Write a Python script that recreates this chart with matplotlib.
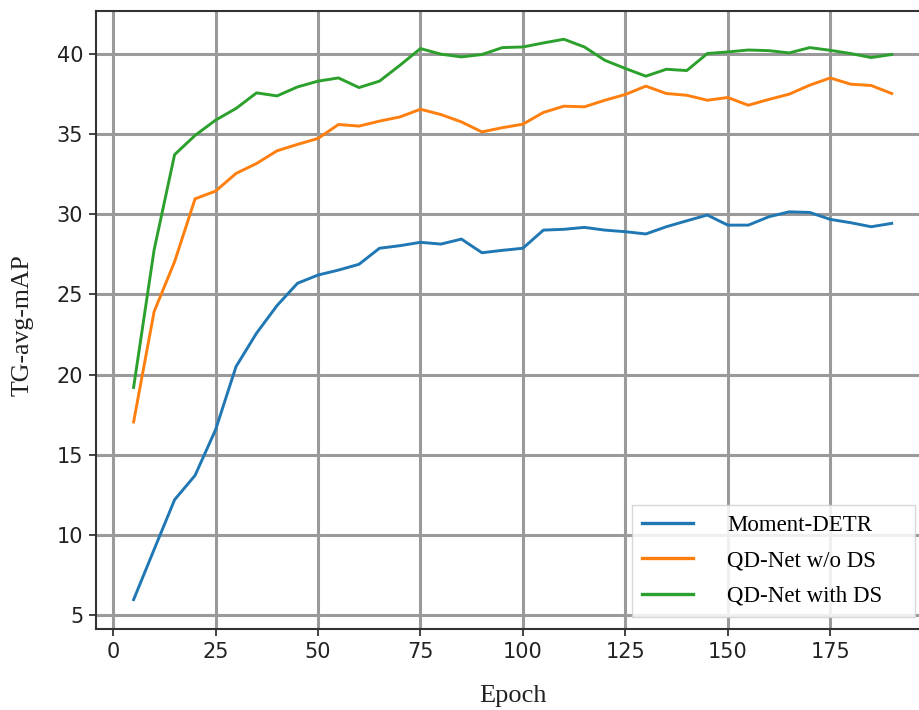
import matplotlib
matplotlib.use("Agg")
import matplotlib.pyplot as plt

epochs = [5, 10, 15, 20, 25, 30, 35, 40, 45, 50, 55, 60, 65, 70, 75, 80, 85, 90, 95,
          100, 105, 110, 115, 120, 125, 130, 135, 140, 145, 150, 155, 160, 165, 170,
          175, 180, 185, 190]

moment_detr = [5.98, 9.1, 12.2, 13.72, 16.56, 20.5, 22.58, 24.3, 25.69, 26.2, 26.51,
               26.87, 27.87, 28.03, 28.24, 28.13, 28.44, 27.59, 27.74, 27.87, 29.0,
               29.05, 29.17, 29.0, 28.9, 28.76, 29.21, 29.58, 29.94, 29.31, 29.31,
               29.83, 30.14, 30.1, 29.67, 29.46, 29.21, 29.42]

qdnet_wo_ds = [17.05, 23.92, 27.03, 30.95, 31.43, 32.53, 33.15, 33.94, 34.34, 34.71,
               35.58, 35.48, 35.79, 36.05, 36.53, 36.2, 35.74, 35.12, 35.38, 35.6,
               36.33, 36.72, 36.68, 37.09, 37.45, 37.97, 37.51, 37.4, 37.09, 37.26,
               36.78, 37.14, 37.47, 38.03, 38.48, 38.09, 38.01, 37.51]

qdnet_with_ds = [19.2, 27.76, 33.7, 34.9, 35.85, 36.58, 37.55, 37.36, 37.92, 38.28,
                 38.48, 37.88, 38.28, 39.27, 40.31, 39.96, 39.79, 39.94, 40.37, 40.41,
                 40.66, 40.89, 40.41, 39.58, 39.07, 38.59, 39.02, 38.94, 40.0, 40.1,
                 40.22, 40.18, 40.04, 40.37, 40.2, 40.0, 39.75, 39.94]

labels = ["Moment-DETR", "QD-Net w/o DS", "QD-Net with DS"]
colors = ["#1f77b4", "#ff7f0e", "#2ca02c"]

W, H = 919, 710
fig = plt.figure(figsize=(W / 100, H / 100), dpi=100)
L, R, T, B = 95.7, 929.6, 11, 629
ax = fig.add_axes([L / W, 1 - B / H, (R - L) / W, (B - T) / H])

for ys, lab, c in zip([moment_detr, qdnet_wo_ds, qdnet_with_ds], labels, colors):
    ax.plot(epochs, ys, color=c, lw=2.1, label=lab)

ax.set_xlim(-4.25, 199.25)
ax.set_ylim(4.15, 42.65)
ax.set_xticks([0, 25, 50, 75, 100, 125, 150, 175])
ax.set_yticks([5, 10, 15, 20, 25, 30, 35, 40])

ax.grid(True, color="#9a9a9a", lw=2.2)
ax.set_axisbelow(True)
for s in ax.spines.values():
    s.set_color("#333333")
    s.set_linewidth(1.5)

ax.tick_params(axis="both", labelsize=15, length=5, width=1.3, color="#333333",
               labelcolor="#222222", pad=4)
for t in ax.get_xticklabels() + ax.get_yticklabels():
    t.set_family("DejaVu Sans")

ax.set_xlabel("Epoch", family="Liberation Serif", fontsize=19, color="#222222")
ax.xaxis.set_label_coords((512.6 - L) / (R - L), (B - 707) / (B - T))
ax.xaxis.label.set_va("bottom")
ax.set_ylabel("TG-avg-mAP", family="Liberation Serif", fontsize=18.5, color="#222222")
ax.yaxis.set_label_coords((34 - L) / (R - L), (B - 325) / (B - T))

leg = ax.legend(loc="lower left",
                bbox_to_anchor=(632 / W, 1 - 617 / H, (915 - 632) / W, (617 - 504) / H),
                bbox_transform=fig.transFigure, borderaxespad=0, mode="expand",
                prop={"family": "Liberation Serif", "size": 16.5},
                handlelength=2.2, handletextpad=1.5, labelspacing=0.62,
                borderpad=0.45, fancybox=False, framealpha=0.85,
                edgecolor="#d0d0d0")
for line in leg.get_lines():
    line.set_linewidth(2.4)

fig.savefig("out.png", dpi=100)
